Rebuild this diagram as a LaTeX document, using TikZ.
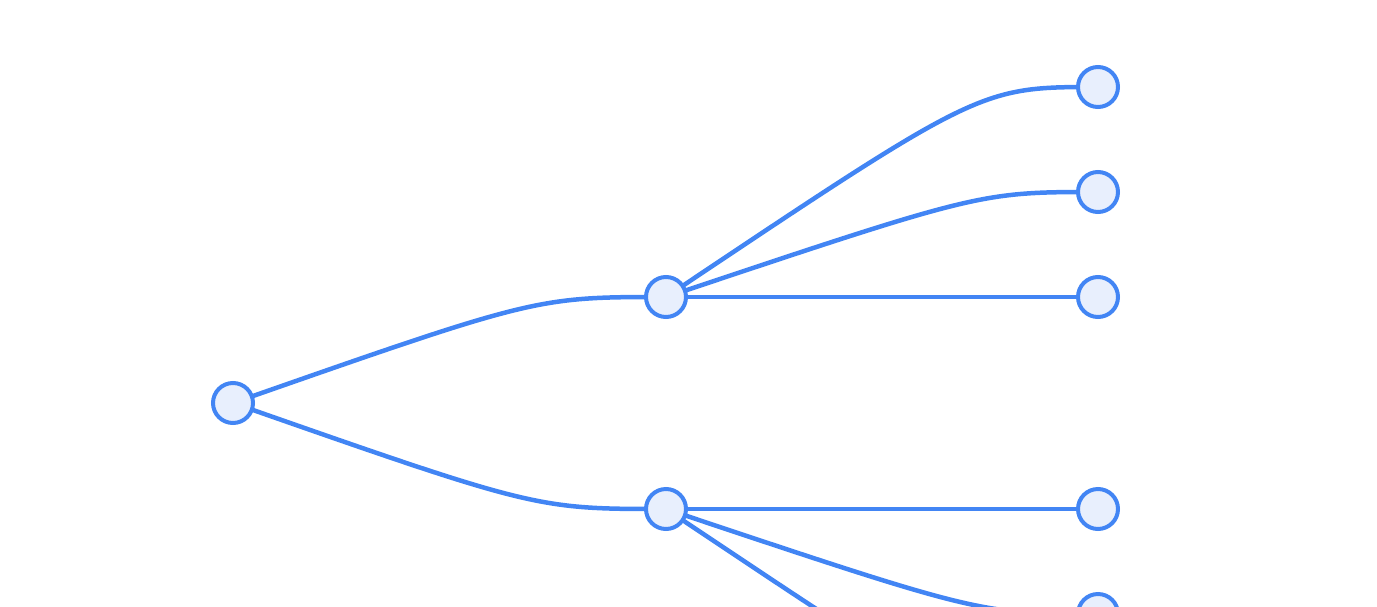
\documentclass[tikz,border=0pt]{standalone}
\begin{document}
\begin{tikzpicture}[x=1pt,y=-1pt,
  nd/.style={circle,draw=edgeblue,fill=nodefill,line width=4pt,minimum size=40pt,inner sep=0pt},
  ln/.style={draw=edgeblue,line width=4.5pt}]
\definecolor{edgeblue}{RGB}{66,133,244}
\definecolor{nodefill}{RGB}{232,239,253}
\useasboundingbox (0,0) rectangle (1377,606);
\coordinate (r) at (233,403);
\coordinate (m1) at (666,297);
\coordinate (m2) at (666,509);
\coordinate (a1) at (1098,87);
\coordinate (a2) at (1098,192);
\coordinate (a3) at (1098,297);
\coordinate (b1) at (1098,509);
\coordinate (b2) at (1098,614);
\coordinate (b3) at (1098,719);
\begin{scope}
\clip (0,0) rectangle (1377,606);
\draw[ln] (r) .. controls (536,297) .. (m1);
\draw[ln] (r) .. controls (536,509) .. (m2);
\foreach \t/\y in {a1/87,a2/192,a3/297}{\draw[ln] (m1) .. controls (980,\y) .. (\t);}
\foreach \t/\y in {b1/509,b2/614,b3/719}{\draw[ln] (m2) .. controls (980,\y) .. (\t);}
\node[nd] (R) at (r) {};
\node[nd] (M1) at (m1) {};
\node[nd] (M2) at (m2) {};
\node[nd] (A1) at (a1) {};
\node[nd] (A2) at (a2) {};
\node[nd] (A3) at (a3) {};
\node[nd] (B1) at (b1) {};
\node[nd] (B2) at (b2) {};
\node[nd] (B3) at (b3) {};
\end{scope}
\end{tikzpicture}
\end{document}
